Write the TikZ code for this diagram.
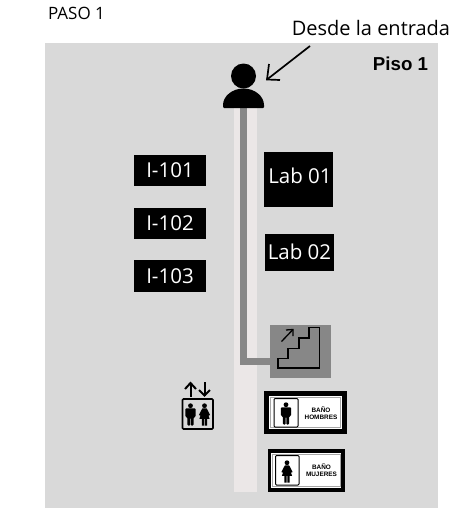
\documentclass[tikz,border=0pt]{standalone}
\usepackage{fontspec}
\setmainfont{Open Sans}
\newfontfamily\labfont{Liberation Sans}
\definecolor{floorgray}{HTML}{D9D9D9}
\definecolor{pathlight}{HTML}{EBE7E7}
\definecolor{pathdark}{HTML}{878787}
\tikzset{
  roomsign/.style={fill=black,text=white,inner sep=0pt,font=\fontsize{20.5}{24}\selectfont,anchor=center},
  plain/.style={inner sep=0pt,text=black},
  bathouter/.style={fill=black,draw=none},
  bathtext/.style={inner sep=0pt,align=center,font=\labfont\bfseries\fontsize{6.4}{7.8}\selectfont}
}
\newcommand{\mansym}[3]{% x y scale
  \begin{scope}[shift={(#1,#2)},scale=#3]
   \fill (0,-7.4) circle (2.3);
   \fill[rounded corners=1] (-4.8,-5) -- (4.8,-5) -- (4.8,3.5) -- (3,3.5) -- (3,11.5) -- (.3,11.5) -- (.3,4) -- (-.3,4) -- (-.3,11.5) -- (-3,11.5) -- (-3,3.5) -- (-4.8,3.5) -- cycle;
  \end{scope}}
\newcommand{\womansym}[3]{%
  \begin{scope}[shift={(#1,#2)},scale=#3]
   \fill (0,-7.4) circle (2.3);
   \fill (-2,-5) -- (2,-5) -- (5.4,1.5) -- (3.8,2) -- (4.8,5) -- (2.4,5) -- (2.4,11.5) -- (.4,11.5) -- (.4,5) -- (-.4,5) -- (-.4,11.5) -- (-2.4,11.5) -- (-2.4,5) -- (-4.8,5) -- (-3.8,2) -- (-5.4,1.5) -- cycle;
  \end{scope}}
\begin{document}
\begin{tikzpicture}[x=1pt,y=-1pt]
\useasboundingbox (0,0) rectangle (464,525);
\fill[white] (0,0) rectangle (464,525);
\fill[floorgray] (45,43) rectangle (438,508);
\node[plain,font=\fontsize{17}{20}\selectfont] (paso) at (76.5,13) {PASO 1};
\node[plain,font=\fontsize{20}{24}\selectfont] (desde) at (371,28) {Desde la entrada};
\node[plain,font=\labfont\bfseries\fontsize{18.7}{22}\selectfont] (piso) at (400.5,64) {Piso 1};
% paths
\fill[pathlight] (234,105) rectangle (257,492);
\fill[pathdark] (270,325) rectangle (331,378);
\draw[pathdark,line width=7.5pt] (243.5,105) -- (243.5,361.5) -- (270,361.5);
% person
\fill (243.5,76) circle (12.5);
\fill[rounded corners=1pt] (223,108) -- (223,106) arc (180:360:20.5 and 17.5) -- (264,108) -- cycle;
% arrow
\coordinate (arrowstart) at (310,46);
\coordinate (arrowend) at (267,79.5);
\draw[line width=1.7pt] (arrowstart) -- (arrowend);
\draw[line width=1.7pt] (269,64) -- (267,79.5) -- (280,80);
% room signs
\node[roomsign,minimum width=72pt,minimum height=31pt] (i1) at (170,170.5) {I-101};
\node[roomsign,minimum width=72pt,minimum height=31pt] (i2) at (170,223) {I-102};
\node[roomsign,minimum width=72pt,minimum height=32pt] (i3) at (170,276) {I-103};
\node[roomsign,minimum width=69pt,minimum height=55pt] (l1) at (298.5,179.5) {};
\node[roomsign,minimum width=69pt,minimum height=37pt] (l2) at (299.5,252) {Lab 02};
\node[plain,text=white,font=\fontsize{20.5}{24}\selectfont] (l1t) at (300,176) {Lab 01};
% stairs
\draw[line width=1.3pt,line join=miter] (278,368) -- (278,358.5) -- (288,358.5) -- (288,348.5) -- (299,348.5) -- (299,338) -- (309,338) -- (309,327.5) -- (319.5,327.5) -- (319.5,368) -- cycle;
\draw[line width=1.3pt] (281.5,341.5) -- (293,329.5);
\draw[line width=1.3pt] (286,330) -- (293,329.5) -- (293,336);
% elevator
\draw[line width=1.7pt,rounded corners=1pt] (182.5,399) rectangle (213,429);
\draw[line width=2pt] (190.5,396.5) -- (190.5,383);
\draw[line width=2pt] (185,389) -- (190.5,383) -- (196,389);
\draw[line width=2pt] (204.5,382) -- (204.5,395.5);
\draw[line width=2pt] (199,390) -- (204.5,395.5) -- (210,390);
\mansym{190.5}{413.5}{1.05}
\womansym{204.5}{413.5}{1.05}
% bath men
\fill[bathouter] (264,391) rectangle (347,434);
\fill[white] (269,396) rectangle (342,429);
\draw[gray!70,line width=.5pt] (270.5,397.5) rectangle (340.5,427.5);
\draw[line width=1pt,rounded corners=1pt,fill=white] (274,398.5) rectangle (298,427);
\mansym{286}{412.5}{1.05}
\node[bathtext] (bm) at (321,413) {BAÑO\\[-1pt]HOMBRES};
% bath women
\fill[bathouter] (267.5,449) rectangle (345,492);
\fill[white] (271,453) rectangle (341,488);
\draw[gray!70,line width=.5pt] (272,454.5) rectangle (340,486.5);
\draw[line width=1pt,rounded corners=1pt,fill=white] (275.5,455.5) rectangle (299,485);
\womansym{287}{470.5}{1.05}
\node[bathtext] (bw) at (321.5,470) {BAÑO\\[-1pt]MUJERES};
\end{tikzpicture}
\end{document}
